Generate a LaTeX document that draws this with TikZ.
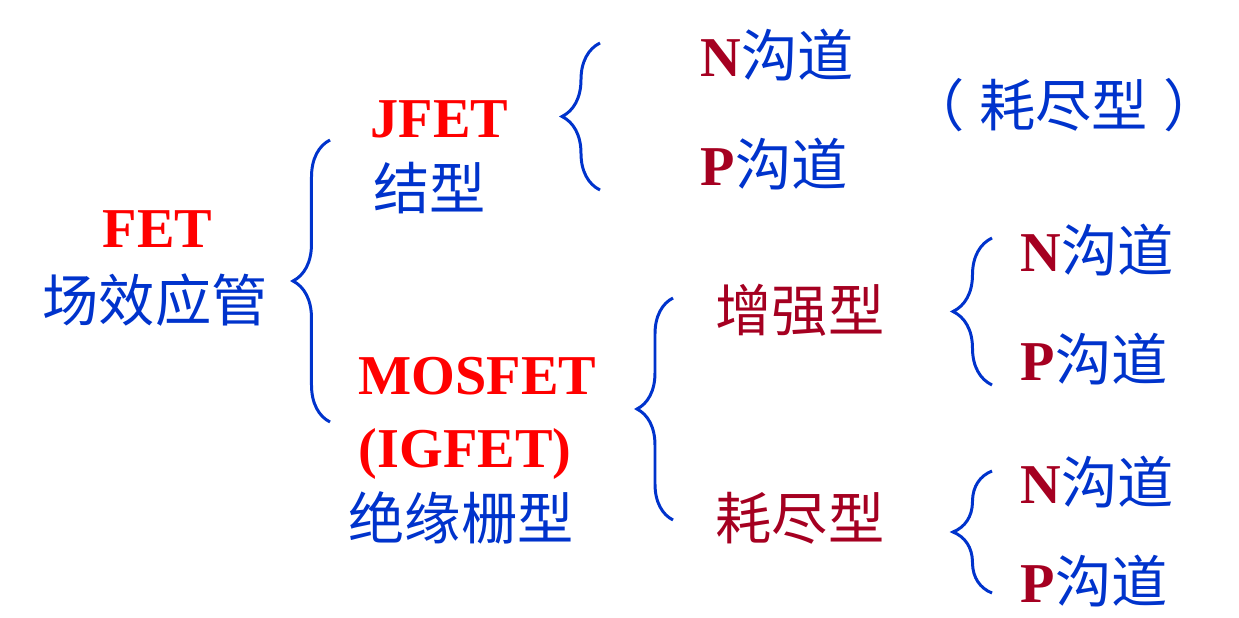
\documentclass[tikz,border=0pt]{standalone}
\usepackage{fontspec}
\setmainfont{Liberation Serif}
\newfontfamily\cjk{Noto Sans CJK SC}
\usetikzlibrary{decorations.pathreplacing}
\definecolor{fetblue}{RGB}{0,51,204}
\definecolor{fetred}{RGB}{255,0,0}
\definecolor{chanred}{RGB}{165,0,33}
\tikzset{
    enlabel/.style={font=\bfseries\fontsize{16}{19}\selectfont, text=fetred,
        inner sep=0pt, anchor=base west},
    cnlabel/.style={font=\cjk\fontsize{16}{19}\selectfont, text=fetblue,
        inner sep=0pt, anchor=base west},
    bracepath/.style={draw=fetblue, line width=0.85pt, decorate,
        decoration={brace, amplitude=#1}}
}
\newcommand{\chan}[1]{{\rmfamily\bfseries\color{chanred}#1}{\cjk 沟道}}

\begin{document}
\begin{tikzpicture}[x=0.01cm, y=-0.01cm]
\useasboundingbox (0,0) rectangle (1239,618);
% first level
\node[enlabel] (fet) at (102,247) {FET};
\node[cnlabel] (fetcn) at (42,321) {场效应管};
% second level
\node[enlabel] (jfet) at (370,137) {JFET};
\node[cnlabel] (jfetcn) at (373,209) {结型};
\node[enlabel] (mos) at (358,394) {MOSFET};
\node[enlabel] (igfet) at (358,467) {(IGFET)};
\node[cnlabel] (moscn) at (348,539) {绝缘栅型};
% JFET channels
\node[cnlabel] (jn) at (700,76) {\chan{N}};
\node[cnlabel] (jp) at (700,185) {\chan{P}};
\node[cnlabel] (jdep) at (908,126) {（\kern0.25em耗尽型\kern0.28em）};
% MOSFET types
\node[cnlabel, text=chanred] (enh) at (715,331) {增强型};
\node[cnlabel, text=chanred] (dep) at (715,539) {耗尽型};
\node[cnlabel] (en) at (1020,271) {\chan{N}};
\node[cnlabel] (ep) at (1020,380) {\chan{P}};
\node[cnlabel] (dn) at (1020,503) {\chan{N}};
\node[cnlabel] (dp) at (1020,602) {\chan{P}};
% braces
\coordinate (b1s) at (330,422);
\coordinate (b1e) at (330,140);
\coordinate (b2s) at (600,190);
\coordinate (b2e) at (600,43);
\coordinate (b3s) at (673,520);
\coordinate (b3e) at (673,298);
\coordinate (b4s) at (992,385);
\coordinate (b4e) at (992,238);
\coordinate (b5s) at (992,593);
\coordinate (b5e) at (992,471);
\draw[bracepath=0.37cm] (b1s) -- (b1e);
\draw[bracepath=0.38cm] (b2s) -- (b2e);
\draw[bracepath=0.36cm] (b3s) -- (b3e);
\draw[bracepath=0.39cm] (b4s) -- (b4e);
\draw[bracepath=0.39cm] (b5s) -- (b5e);
\end{tikzpicture}
\end{document}
